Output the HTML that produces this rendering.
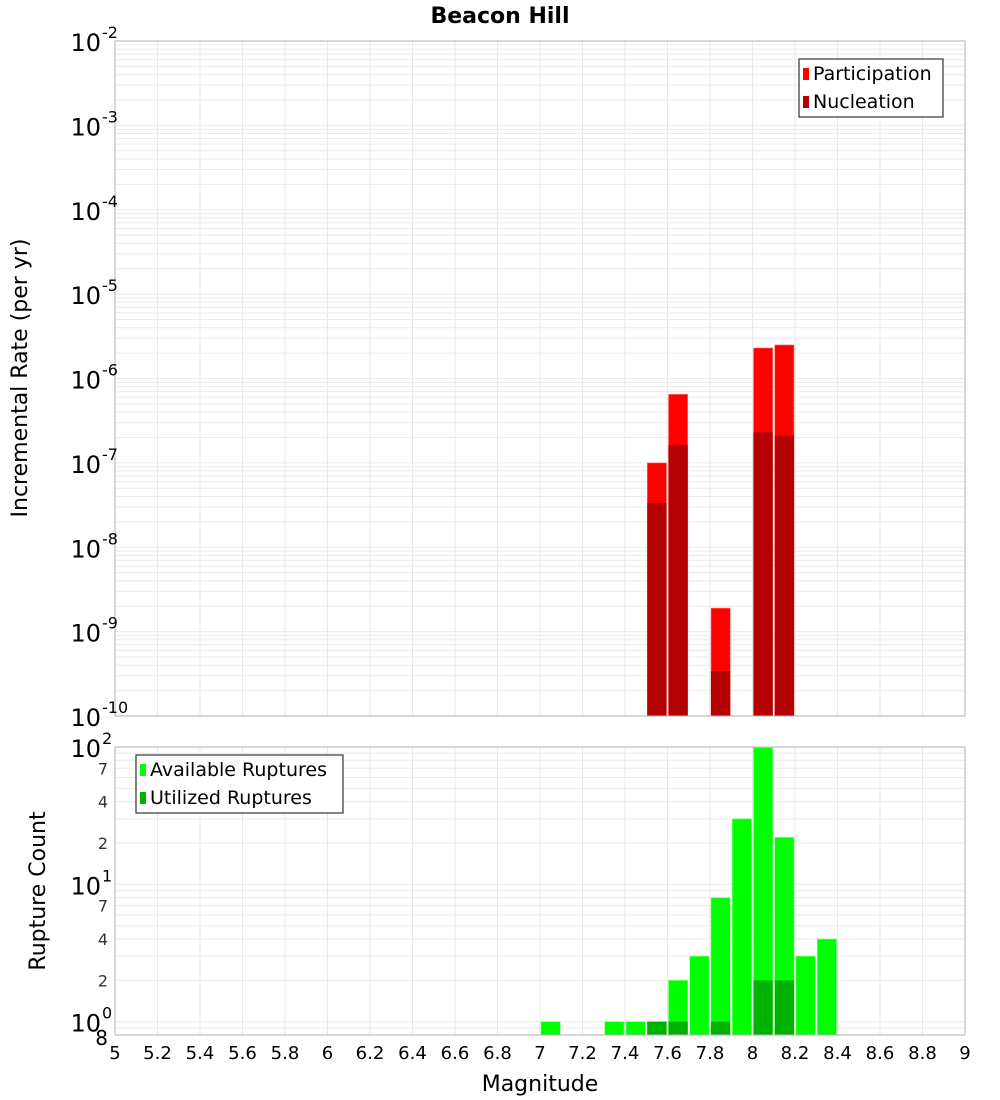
<!DOCTYPE html>
<html><head><meta charset="utf-8"><style>
html,body{margin:0;padding:0;background:#fff;}
svg{display:block;font-family:"DejaVu Sans","Liberation Sans",sans-serif;}
</style></head><body>
<svg id="chart" width="1000" height="1100" xmlns="http://www.w3.org/2000/svg">
<text x="500" y="23" text-anchor="middle" font-size="22" font-weight="bold">Beacon Hill</text>
<g id="topPlot"></g>
<g id="botPlot"></g>
</svg>
<script>
const magBins = [7.55, 7.65, 7.85, 8.05, 8.15];
const participationRates = [1.0e-7, 6.5e-7, 1.9e-9, 2.3e-6, 2.5e-6];
const nucleationRates = [3.35e-8, 1.63e-7, 3.4e-10, 2.3e-7, 2.1e-7];
const countBins = [7.05, 7.35, 7.45, 7.55, 7.65, 7.75, 7.85, 7.95, 8.05, 8.15, 8.25, 8.35];
const availableCounts = [1, 1, 1, 1, 2, 3, 8, 30, 99, 22, 3, 4];
const utilizedCounts = [0, 0, 0, 1, 1, 0, 1, 0, 2, 2, 0, 0];
const xTicks = [5,5.2,5.4,5.6,5.8,6,6.2,6.4,6.6,6.8,7,7.2,7.4,7.6,7.8,8,8.2,8.4,8.6,8.8,9];
const topDecades = [-2,-3,-4,-5,-6,-7,-8,-9,-10];

const NS = "http://www.w3.org/2000/svg";
const L = 115, R = 965;
const T1 = 41, B1 = 716, T2 = 747, B2 = 1035;
function x(m){ return L + (m - 5) / 4 * (R - L); }
function yTop(v){ return T1 + (-2 - Math.log10(v)) / 8 * (B1 - T1); }
const botMin = Math.log10(0.8), botMax = 2;
function yBot(v){ return T2 + (botMax - Math.log10(v)) / (botMax - botMin) * (B2 - T2); }
function mk(tag, attrs, parent, text){
  const e = document.createElementNS(NS, tag);
  for (const k in attrs) e.setAttribute(k, attrs[k]);
  if (text !== undefined) e.textContent = text;
  parent.appendChild(e); return e;
}
const topG = document.getElementById('topPlot'), botG = document.getElementById('botPlot');

for (const t of xTicks) {
  const g1 = mk('line', {x1:x(t), x2:x(t), y1:T1, y2:B1, stroke:'#e8e8e8', 'stroke-width':1}, topG);
  
  
  const g2 = mk('line', {x1:x(t), x2:x(t), y1:T2, y2:B2, stroke:'#e8e8e8', 'stroke-width':1}, botG);
  
  
}
for (let d = -10; d < -2; d++) {
  for (let k = 1; k <= 9; k++) {
    const v = k * Math.pow(10, d); const yy = yTop(v);
    const gl = mk('line', {x1:L, x2:R, y1:yy, y2:yy, stroke:'#ebebeb', 'stroke-width':1}, topG);
    
    
  }
}
for (let d = -1; d < 2; d++) {
  for (let k = 1; k <= 9; k++) {
    const v = k * Math.pow(10, d); if (v < 0.8) continue; const yy = yBot(v);
    const gl = mk('line', {x1:L, x2:R, y1:yy, y2:yy, stroke:'#ebebeb', 'stroke-width':1}, botG);
    
    
  }
}
const bw = (x(5.1) - x(5));
magBins.forEach((m, i) => {
  const x0 = x(m - 0.05) + 1, w = bw - 2;
  const p = mk('rect', {x:x0, y:yTop(participationRates[i]), width:w, height:B1 - yTop(participationRates[i]), fill:'#ff0000', stroke:'#ff8080', 'stroke-width':0.6}, topG);
  
  
  const n = mk('rect', {x:x0, y:yTop(nucleationRates[i]), width:w, height:B1 - yTop(nucleationRates[i]), fill:'#b30000'}, topG);
  
  
});
countBins.forEach((m, i) => {
  const x0 = x(m - 0.05) + 1, w = bw - 2;
  const a = mk('rect', {x:x0, y:yBot(availableCounts[i]), width:w, height:B2 - yBot(availableCounts[i]), fill:'#00ff00', stroke:'#80ff80', 'stroke-width':0.6}, botG);
  
  
  if (utilizedCounts[i] > 0) {
    const u = mk('rect', {x:x0, y:yBot(utilizedCounts[i]), width:w, height:B2 - yBot(utilizedCounts[i]), fill:'#00b200'}, botG);
    
    
  }
});
const f1 = mk('rect', {x:L, y:T1, width:R-L, height:B1-T1, fill:'none', stroke:'#b0b0b0', 'stroke-width':1}, topG);


const f2 = mk('rect', {x:L, y:T2, width:R-L, height:B2-T2, fill:'none', stroke:'#b0b0b0', 'stroke-width':1}, botG);



topDecades.forEach(d => {
  const yy = yTop(Math.pow(10, d));
  const t = mk('text', {x:101, y:yy + 10, 'text-anchor':'end', 'font-size':24}, topG, '10');
  
  
  const e = mk('text', {x:102, y:yy - 3, 'font-size':16}, topG, String(d));
  
  
});
[2,1,0].forEach(d => {
  const yy = yBot(Math.pow(10, d));
  const t = mk('text', {x:101, y:yy + 10, 'text-anchor':'end', 'font-size':24}, botG, '10');
  
  
  const e = mk('text', {x:102, y:yy - 3, 'font-size':16}, botG, String(d));
  
  
});
[2,4,7,20,40,70].forEach(v => {
  const t = mk('text', {x:108, y:yBot(v) + 6, 'text-anchor':'end', 'font-size':16, fill:'#333'}, botG, String(v).charAt(0));
  
  
});
const e8 = mk('text', {x:108, y:B2 + 10, 'text-anchor':'end', 'font-size':20}, botG, '8');



xTicks.forEach(t => {
  const lab = mk('text', {x:x(t), y:1059, 'text-anchor':'middle', 'font-size':18}, botG, String(t));
  
  
});
const xt = mk('text', {x:540, y:1091, 'text-anchor':'middle', 'font-size':22}, botG, 'Magnitude');


const yt1 = mk('text', {x:0, y:0, 'text-anchor':'middle', 'font-size':22, transform:'translate(27,378) rotate(-90)'}, topG, 'Incremental Rate (per yr)');


const yt2 = mk('text', {x:0, y:0, 'text-anchor':'middle', 'font-size':22, transform:'translate(45,891) rotate(-90)'}, botG, 'Rupture Count');



function legend(parent, bx, by, bwid, items, name){
  const g = mk('g', {}, parent);
  
  
  mk('rect', {x:bx, y:by, width:bwid, height:58, fill:'#fff', stroke:'#333', 'stroke-width':1.2}, g);
  items.forEach((it, i) => {
    const sw = mk('rect', {x:bx + 4, y:by + 9 + i*28, width:6, height:12, fill:it[1]}, g);
    
    
    const tx = mk('text', {x:bx + 14, y:by + 21 + i*28, 'font-size':19}, g, it[0]);
    
    
  });
}
legend(topG, 799, 59, 144, [['Participation','#ff0000'],['Nucleation','#b30000']], 'rate-legend');
legend(botG, 136, 755, 207, [['Available Ruptures','#00ff00'],['Utilized Ruptures','#00b200']], 'count-legend');
</script>
</body></html>
